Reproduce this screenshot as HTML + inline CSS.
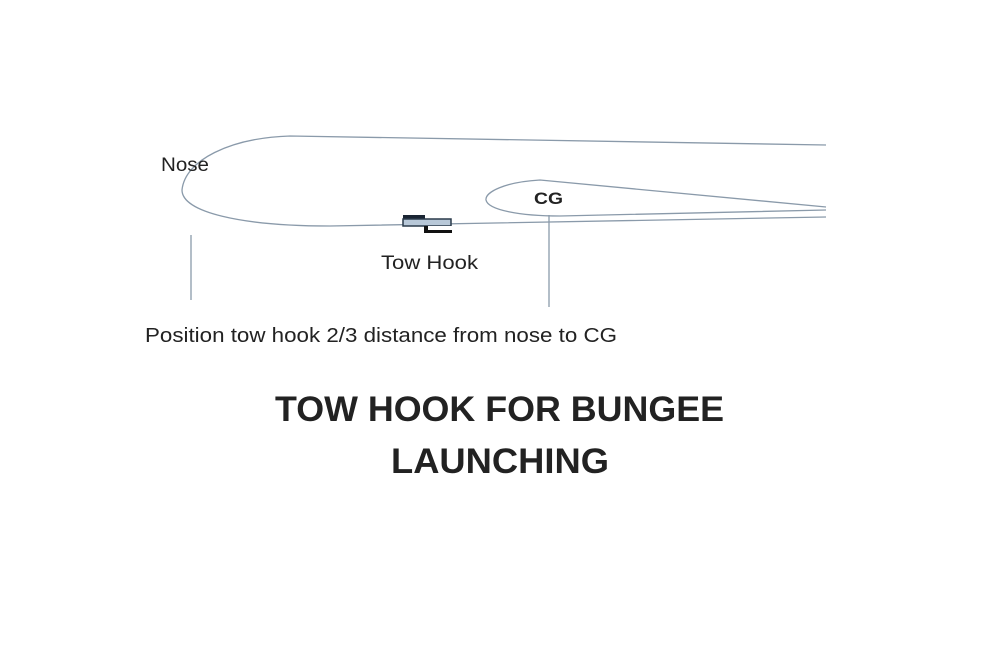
<!DOCTYPE html>
<html><head><style>
body{margin:0;background:#fff;width:986px;height:646px;overflow:hidden;font-family:"Liberation Sans",sans-serif}
</style></head><body>
<svg width="986" height="646" xmlns="http://www.w3.org/2000/svg">
<g fill="none" stroke="#8a9aaa" stroke-width="1.3">
<path d="M826,145 L290,136 C230,138 185,160 182,190 C182,212 240,226 330,226 L826,217"/>
<path d="M826,207 L540,180 C505,182 485,192 486,200 C488,210 520,216 560,216 L826,210"/>
<line x1="191" y1="235" x2="191" y2="300"/>
<line x1="549" y1="215" x2="549" y2="307"/>
</g>
<rect x="403" y="215" width="22" height="6" fill="#1a2533"/>
<rect x="403" y="219" width="48" height="7" fill="#b8c8d8" stroke="#2a3a4a" stroke-width="1.5"/>
<rect x="424" y="226" width="28" height="7" fill="#111"/>
<rect x="428" y="226" width="24" height="4" fill="#fff"/>
<g font-family="Liberation Sans,sans-serif" fill="#222">
<text x="161" y="171" font-size="19" textLength="48" lengthAdjust="spacingAndGlyphs">Nose</text>
<text x="534" y="204" font-size="17" font-weight="bold" textLength="29" lengthAdjust="spacingAndGlyphs">CG</text>
<text x="381" y="269" font-size="19" textLength="97" lengthAdjust="spacingAndGlyphs">Tow Hook</text>
<text x="145" y="342" font-size="20" textLength="472" lengthAdjust="spacingAndGlyphs">Position tow hook 2/3 distance from nose to CG</text>
<text x="275" y="421" font-size="35" font-weight="bold" textLength="449" lengthAdjust="spacingAndGlyphs">TOW HOOK FOR BUNGEE</text>
<text x="391" y="473" font-size="35" font-weight="bold" textLength="218" lengthAdjust="spacingAndGlyphs">LAUNCHING</text>
</g>
</svg>
</body></html>
